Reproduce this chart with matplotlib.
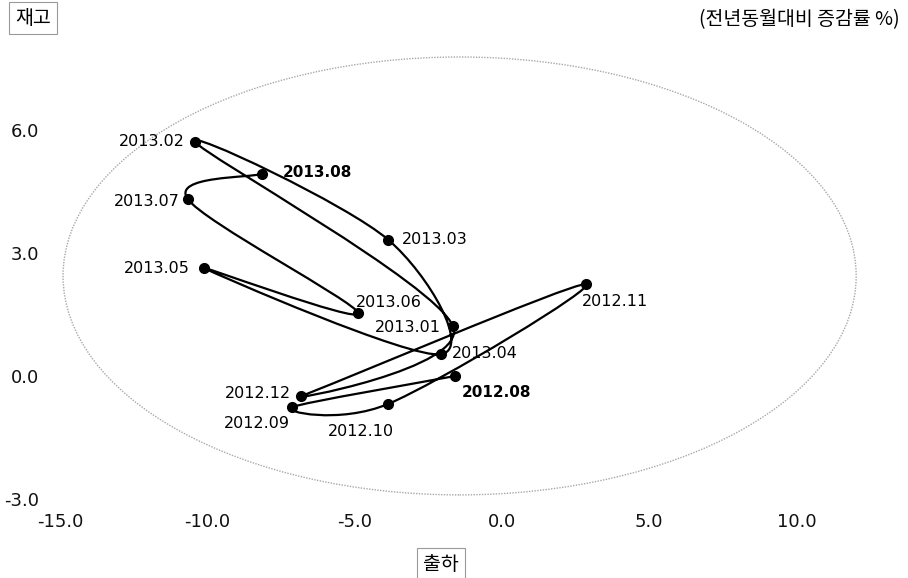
import numpy as np
import matplotlib
matplotlib.use("Agg")
import matplotlib.pyplot as plt
from matplotlib.path import Path
from matplotlib.patches import PathPatch, Ellipse

plt.rcParams['font.family'] = ['DejaVu Sans', 'Noto Sans CJK KR']

#%% data (전년동월대비 증감률 %)

months = ["2012.08", "2012.09", "2012.10", "2012.11", "2012.12", "2013.01", "2013.02",
          "2013.03", "2013.04", "2013.05", "2013.06", "2013.07", "2013.08"]
shipment = [-1.59, -7.14, -3.86, 2.84, -6.84, -1.67, -10.43,
            -3.86, -2.08, -10.12, -4.88, -10.68, -8.14]
inventory = [0.00, -0.76, -0.68, 2.24, -0.49, 1.22, 5.71,
             3.32, 0.53, 2.63, 1.53, 4.32, 4.93]
x_ticks = [-15, -10, -5, 0, 5, 10]
y_ticks = [-3, 0, 3, 6]

# label offsets in pixels (dx, dy, ha)
label_pos = {
    "2012.08": (7, -17, "left"),
    "2012.09": (-2, -16, "right"),
    "2012.10": (-27, -28, "center"),
    "2012.11": (-4, -17, "left"),
    "2012.12": (-10, 3, "right"),
    "2013.01": (-12, -2, "right"),
    "2013.02": (-10, 0, "right"),
    "2013.03": (14, 0, "left"),
    "2013.04": (11, 1, "left"),
    "2013.05": (-14, 0, "right"),
    "2013.06": (-2, 11, "left"),
    "2013.07": (-8, -3, "right"),
    "2013.08": (20, 1, "left"),
}

#%% figure

fig = plt.figure(figsize=(9.08, 5.78), dpi=100)
ax = fig.add_axes([60.4 / 908, 79 / 578, 1 - 60.4 / 908, 499 / 578])
ax.set_xlim(-15, 13.79)
ax.set_ylim(-3, 9.17)
for s in ax.spines.values():
    s.set_visible(False)
ax.set_xticks(x_ticks)
ax.set_xticklabels([f"{v:.1f}" for v in x_ticks])
ax.set_yticks(y_ticks)
ax.set_yticklabels([f"{v:.1f}" for v in y_ticks])
ax.tick_params(axis="both", length=0, labelsize=13, colors="#111111")
ax.tick_params(axis="x", pad=10)
ax.tick_params(axis="y", pad=15)

# background ellipse
ax.add_patch(Ellipse((-1.44, 2.44), 26.94, 10.68, fill=False, ls=(0, (1, 1)),
                     lw=1.0, ec="#a8a8a8", clip_on=False))

# smooth curve through the points (catmull-rom as bezier)
pts = np.column_stack([shipment, inventory])
n = len(pts)
verts = [pts[0]]
codes = [Path.MOVETO]
for i in range(n - 1):
    p0 = pts[max(i - 1, 0)]
    p1 = pts[i]
    p2 = pts[i + 1]
    p3 = pts[min(i + 2, n - 1)]
    verts += [p1 + (p2 - p0) / 6, p2 - (p3 - p1) / 6, p2]
    codes += [Path.CURVE4] * 3
ax.add_patch(PathPatch(Path(verts, codes), fill=False, lw=1.6, ec="black",
                       capstyle="round", joinstyle="round"))
ax.plot(shipment, inventory, "o", color="black", markersize=7, zorder=3)

for i, m in enumerate(months):
    dx, dy, ha = label_pos[m]
    bold = i == 0 or i == n - 1
    ax.annotate(m, (shipment[i], inventory[i]), xytext=(dx, dy),
                textcoords="offset pixels", ha=ha, va="center",
                fontsize=11 if bold else 11.5,
                fontweight="bold" if bold else "normal", color="black")

# axis names and note
box = dict(boxstyle="square,pad=0.3", fc="white", ec="#9a9a9a", lw=0.8)
kr = ['Noto Sans CJK KR', 'DejaVu Sans']
fig.text(33 / 908, 1 - 18 / 578, "재고", ha="center", va="center", fontsize=14,
         family=kr, bbox=box)
fig.text(441 / 908, 1 - 564 / 578, "출하", ha="center", va="center", fontsize=14,
         family=kr, bbox=box)
fig.text(900 / 908, 1 - 20 / 578, "(전년동월대비 증감률 %)", ha="right", va="center",
         fontsize=14, family=kr)

plt.savefig("out.png", dpi=100)
